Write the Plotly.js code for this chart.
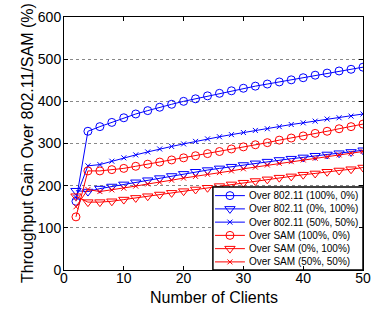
<!DOCTYPE html>
<html>
<head>
<meta charset="utf-8">
<script src="https://cdn.plot.ly/plotly-3.0.1.min.js"></script>
<style>html,body{margin:0;padding:0;background:#fff;}#chart{width:383px;height:311px;}</style>
</head>
<body>
<div id="chart"></div>
<script>
const clients = [2,4,6,8,10,12,14,16,18,20,22,24,26,28,30,32,34,36,38,40,42,44,46,48,50];

const over80211_100_0 = [163,329,340,350,361,370,378,386,393,400,406,413,419,425,431,436,441,446,451,456,462,467,472,476,481];
const over80211_0_100 = [188,186,193,198,203,208,213,218,223,228,233,237,241,245,249,253,257,261,264,267,271,274,277,280,284];
const over80211_50_50 = [172,247,250,258,266,273,280,287,293,299,305,311,316,321,326,331,335,340,345,349,353,358,361,365,370];
const overSAM_100_0 = [126,235,235,238,241,246,251,256,261,266,271,276,281,287,292,297,302,308,313,318,324,329,335,340,346];
const overSAM_0_100 = [175,161,161,163,167,171,175,179,183,187,191,195,199,203,207,211,215,219,222,226,229,233,236,239,243];
const overSAM_50_50 = [150,191,186,190,194,199,204,208,213,218,222,227,231,235,240,244,249,253,257,261,265,269,273,277,281];

const names = [
  'Over 802.11 (100%, 0%)',
  'Over 802.11 (0%, 100%)',
  'Over 802.11 (50%, 50%)',
  'Over SAM (100%, 0%)',
  'Over SAM (0%, 100%)',
  'Over SAM (50%, 50%)'
];
const xTitle = 'Number of Clients';
const yTitle = 'Throughput Gain Over 802.11/SAM (%)';
const xTicks = [0,10,20,30,40,50];
const yTicks = [0,100,200,300,400,500,600];

const series = [over80211_100_0, over80211_0_100, over80211_50_50, overSAM_100_0, overSAM_0_100, overSAM_50_50];
const colors = ['#0000ff','#0000ff','#0000ff','#ff0000','#ff0000','#ff0000'];
const symbols = ['circle-open','triangle-down-open','x-thin-open','circle-open','triangle-down-open','x-thin-open'];
const sizes = [8,9,5,8,9,5];

const font = 'Liberation Sans, Arial, Helvetica, sans-serif';

const traces = series.map((ys, i) => ({
  x: clients,
  y: ys,
  name: names[i],
  type: 'scatter',
  mode: 'lines+markers',
  showlegend: false,
  line: {color: colors[i], width: 1},
  marker: {symbol: symbols[i], size: sizes[i], color: colors[i], line: {color: colors[i], width: 1}}
}));

// Custom legend drawn on an overlay subplot with unit range (matches MATLAB's compact legend)
const box = {x0: 0.498, x1: 1.0, y0: 0.0, y1: 0.328};
traces.push({
  x: [box.x0, box.x1, box.x1, box.x0, box.x0],
  y: [box.y0, box.y0, box.y1, box.y1, box.y0],
  xaxis: 'x2', yaxis: 'y2', type: 'scatter', mode: 'lines',
  fill: 'toself', fillcolor: '#fff', line: {color: '#000', width: 1.5},
  showlegend: false, hoverinfo: 'skip'
});
const rowTop = 0.294, rowStep = 0.0524;
const annotations = [];
names.forEach((nm, i) => {
  const yc = rowTop - i * rowStep;
  traces.push({
    x: [0.505, 0.605], y: [yc, yc], xaxis: 'x2', yaxis: 'y2',
    type: 'scatter', mode: 'lines', line: {color: colors[i], width: 1},
    showlegend: false, hoverinfo: 'skip'
  });
  traces.push({
    x: [0.555], y: [yc], xaxis: 'x2', yaxis: 'y2',
    type: 'scatter', mode: 'markers',
    marker: {symbol: symbols[i], size: sizes[i], color: colors[i], line: {color: colors[i], width: 1}},
    showlegend: false, hoverinfo: 'skip'
  });
  annotations.push({
    xref: 'x2', yref: 'y2', x: 0.613, y: yc, xanchor: 'left', yanchor: 'middle',
    text: nm, showarrow: false, font: {family: font, size: 10, color: '#000'}
  });
});
annotations.push({
  xref: 'paper', yref: 'paper', x: 0.5, y: -0.107, xanchor: 'center', yanchor: 'middle',
  text: xTitle, showarrow: false, font: {family: font, size: 16, color: '#000'}
});
annotations.push({
  xref: 'paper', yref: 'paper', x: -0.122, y: 0.5, xanchor: 'center', yanchor: 'middle',
  text: yTitle, textangle: -90, showarrow: false, font: {family: font, size: 16, color: '#000'}
});

const layout = {
  width: 383,
  height: 311,
  margin: {l: 64, r: 20, t: 17, b: 41},
  paper_bgcolor: '#fff',
  plot_bgcolor: '#fff',
  font: {family: font, color: '#000', size: 14},
  showlegend: false,
  annotations: annotations,
  xaxis: {
    range: [0, 50],
    tickvals: xTicks,
    ticks: 'inside', ticklen: 4, tickcolor: '#000',
    showline: true, linecolor: '#000', linewidth: 1, mirror: 'ticks',
    showgrid: false, zeroline: false,
    tickfont: {size: 14}, ticklabelstandoff: -5
  },
  yaxis: {
    range: [0, 600],
    tickvals: yTicks,
    ticks: 'inside', ticklen: 4, tickcolor: '#000',
    showline: true, linecolor: '#000', linewidth: 1, mirror: 'ticks',
    showgrid: true, gridcolor: '#888', griddash: 'dot', gridwidth: 1,
    zeroline: false,
    tickfont: {size: 14}, ticklabelstandoff: -1
  },
  xaxis2: {overlaying: 'x', range: [0, 1], visible: false, fixedrange: true},
  yaxis2: {overlaying: 'y', range: [0, 1], visible: false, fixedrange: true}
};

Plotly.newPlot('chart', traces, layout, {displayModeBar: false, staticPlot: true});
</script>
</body>
</html>
